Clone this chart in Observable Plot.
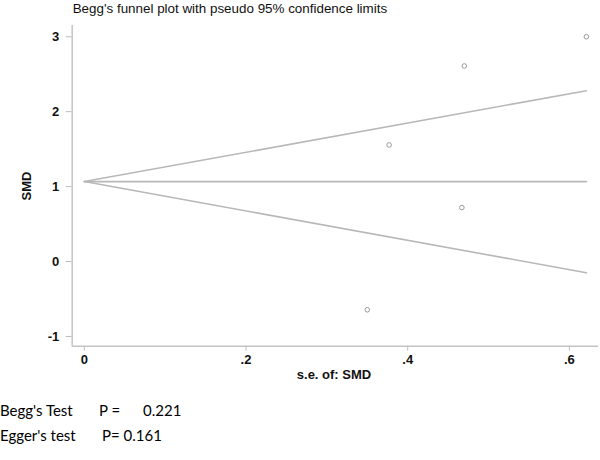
<!DOCTYPE html>
<html>
<head>
<meta charset="utf-8">
<script src="https://cdn.jsdelivr.net/npm/d3@7"></script>
<script src="https://cdn.jsdelivr.net/npm/@observablehq/plot@0.6"></script>
<style>
  html, body { margin: 0; padding: 0; background: #fff; }
  #wrap { position: relative; width: 600px; height: 460px; overflow: hidden; }
  #wrap svg { position: absolute; left: 0; top: 0; }
  .t { position: absolute; white-space: pre; color: #111; }
  .arial { font-family: "Liberation Sans", Arial, sans-serif; font-size: 13.4px; line-height: 15px; }
  .bold { font-weight: bold; font-size: 13px; }
  .foot { font-family: Lato, "Open Sans", sans-serif; font-size: 15px; line-height: 15px; color: #000; }
</style>
</head>
<body>
<div id="wrap"></div>
<script>
// ---- data ----
const studySE  = [0.350, 0.377, 0.467, 0.470, 0.621];
const studySMD = [-0.644, 1.556, 0.72, 2.61, 3.0];

const funnelSE    = [0, 0.621];
const pooledSMD   = [1.067, 1.067];
const upperLimit  = [1.067, 2.28];
const lowerLimit  = [1.067, -0.15];

const xTicks = [0, 0.2, 0.4, 0.6];
const yTicks = [-1, 0, 1, 2, 3];
const xDomain = [-0.015, 0.636];
const yDomain = [-1.13, 3.15];

const titleText = "Begg's funnel plot with pseudo 95% confidence limits";
const xLabel = "s.e. of: SMD";
const yLabel = "SMD";
const footLines = [
  ["Begg's Test", "P =", "0.221"],
  ["Egger's test", "P= 0.161", ""]
];

// ---- build ----
const studies = studySE.map((se, i) => ({se, smd: studySMD[i]}));
const lines = [pooledSMD, upperLimit, lowerLimit].map(arr => funnelSE.map((se, i) => ({se, v: arr[i]})));

const fmtX = d => d === 0 ? "0" : String(d).replace(/^0/, "");
const fmtY = d => String(d);

const chart = Plot.plot({
  width: 600,
  height: 460,
  marginLeft: 71.7,
  marginRight: 2,
  marginTop: 25,
  marginBottom: 114.3,
  style: {fontFamily: "'Liberation Sans', Arial, sans-serif", fontSize: "13px", fontWeight: "bold", color: "#111", background: "transparent"},
  x: {domain: xDomain},
  y: {domain: yDomain},
  marks: [
    Plot.axisY({ticks: yTicks, tickFormat: fmtY, tickSize: 6, tickPadding: 7, stroke: "#bdbdbd", fill: "#111", label: null}),
    Plot.axisX({ticks: xTicks, tickFormat: fmtX, tickSize: 5, tickPadding: 4, stroke: "#bdbdbd", fill: "#111", label: null}),
    Plot.ruleX([xDomain[0]], {stroke: "#c4c4c4", strokeWidth: 1.5}),
    Plot.ruleY([yDomain[0]], {stroke: "#c4c4c4", strokeWidth: 1.5}),
    ...lines.map(l => Plot.line(l, {x: "se", y: "v", stroke: "#b8b8b8", strokeWidth: 1.6})),
    Plot.dot(studies, {x: "se", y: "smd", r: 2.3, stroke: "#9a9a9a", strokeWidth: 1, fill: "none"})
  ]
});

const wrap = document.getElementById("wrap");
wrap.appendChild(chart);

function addText(txt, cls, left, top, extra) {
  const d = document.createElement("div");
  d.className = "t " + cls;
  d.textContent = txt;
  d.style.left = left + "px";
  d.style.top = top + "px";
  if (extra) Object.assign(d.style, extra);
  wrap.appendChild(d);
  return d;
}

addText(titleText, "arial", 72.7, 1.4);
addText(xLabel, "arial bold", 334, 367, {transform: "translateX(-50%)"});
addText(yLabel, "arial bold", 26, 186, {transform: "translate(-50%,-50%) rotate(-90deg)"});

addText(footLines[0][0], "foot", 0, 403);
addText(footLines[0][1], "foot", 99, 403);
addText(footLines[0][2], "foot", 143, 403);
addText(footLines[1][0], "foot", 0, 428);
addText(footLines[1][1], "foot", 102, 428);
</script>
</body>
</html>
